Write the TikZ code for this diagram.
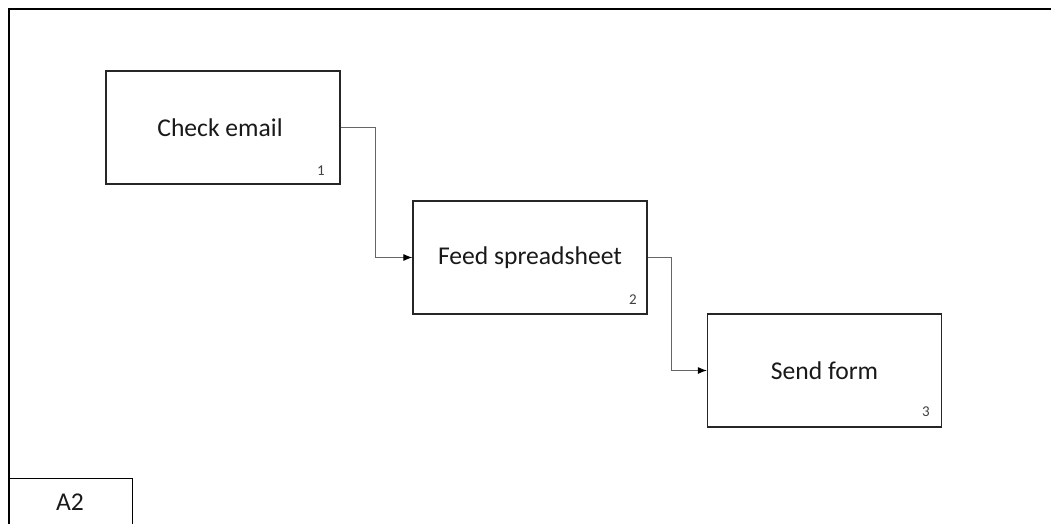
\documentclass[tikz,border=0pt]{standalone}
\usepackage{fontspec}
\setmainfont{Carlito}
\usetikzlibrary{arrows.meta}
\begin{document}
\begin{tikzpicture}[x=1pt,y=-1pt,
  stepbox/.style={draw=black!85,line width=1.3pt,minimum width=234pt,minimum height=113pt,inner sep=0pt,font=\fontsize{25.6}{30}\selectfont,text=black!90},
  numlbl/.style={font=\fontsize{15}{18}\selectfont,text=black!75,inner sep=0pt},
  conn/.style={draw=black!60,line width=0.9pt,-{Latex[length=9pt,width=7pt,black]}},
  frame/.style={draw=black,line width=1.5pt}]
\useasboundingbox (0,0) rectangle (1051,524);
\node[stepbox] (b1) at (223,127.5) {\hspace*{-6pt}Check email};
\node[stepbox] (b2) at (530,257.5) {Feed spreadsheet};
\node[stepbox] (b3) at (824.5,370.5) {Send form};
\node[numlbl] (n1) at (321,171) {1};
\node[numlbl] (n2) at (633,300) {2};
\node[numlbl] (n3) at (926,412) {3};
\coordinate (f1) at (9,524);
\coordinate (f2) at (9,9);
\coordinate (f3) at (1051,9);
\draw[frame] (f1) -- (f2) -- (f3);
\node[draw=black,line width=1.3pt,minimum width=123pt,minimum height=60pt,anchor=north west,inner sep=0pt] (a2) at (9,478) {};
\node[font=\fontsize{25.6}{30}\selectfont,text=black!90] (a2t) at (70,502) {A2};
\draw[conn] (b1.east) -- ++(35,0) |- (b2.west);
\draw[conn] (b2.east) -- ++(24,0) |- (b3.west);
\end{tikzpicture}
\end{document}
